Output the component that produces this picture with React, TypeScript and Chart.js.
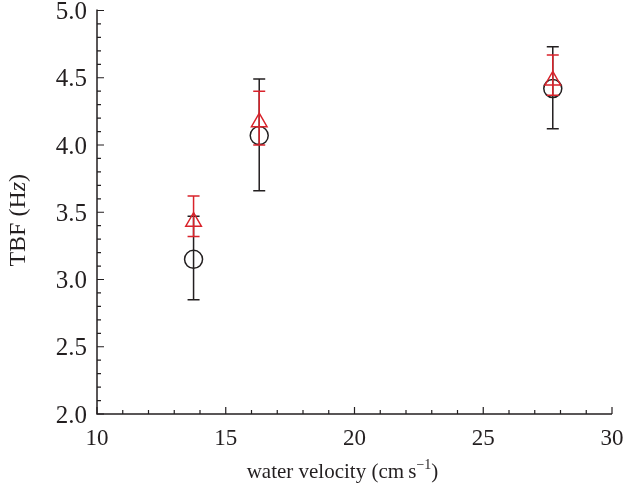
import React, { useEffect, useRef } from 'react';
import { Chart, registerables } from 'chart.js';

Chart.register(...registerables);

// Data
const velocity = [13.75, 16.3, 27.7];
const tbfCircle = [3.15, 4.07, 4.42];
const circleLow = [2.85, 3.66, 4.12];
const circleHigh = [3.47, 4.49, 4.73];
const tbfTriangle = [3.43, 4.17, 4.48];
const triangleLow = [3.32, 4.0, 4.37];
const triangleHigh = [3.62, 4.4, 4.67];

const xMajorTicks = [10, 15, 20, 25, 30];
const xMinorTicks = [11, 12, 13, 14, 16, 17, 18, 19, 21, 22, 23, 24, 26, 27, 28, 29];
const yMajorTicks = [2.0, 2.5, 3.0, 3.5, 4.0, 4.5, 5.0];
const yMinorTicks = [
  2.1, 2.2, 2.3, 2.4, 2.6, 2.7, 2.8, 2.9, 3.1, 3.2, 3.3, 3.4, 3.6, 3.7, 3.8, 3.9,
  4.1, 4.2, 4.3, 4.4, 4.6, 4.7, 4.8, 4.9,
];

const xTitleMain = 'water velocity (cm\u2009s';
const xTitleSup = '\u22121';
const xTitleEnd = ')';
const yTitleParts = ['TBF (H', 'z', ')'];

const BLACK = '#231f20';
const RED = '#d9232b';
const FONT = '"Liberation Serif", "Times New Roman", serif';

const errorBarPlugin = {
  id: 'errorBars',
  beforeDatasetDraw(chart: any, args: any) {
    const ds = chart.data.datasets[args.index];
    if (!ds.errLow) return;
    const { ctx } = chart;
    const xs = chart.scales.x;
    const ys = chart.scales.y;
    ctx.save();
    ctx.strokeStyle = ds.borderColor;
    ctx.lineWidth = 1.5;
    ds.data.forEach((p: any, i: number) => {
      const x = xs.getPixelForValue(p.x);
      const yl = ys.getPixelForValue(ds.errLow[i]);
      const yh = ys.getPixelForValue(ds.errHigh[i]);
      ctx.beginPath();
      ctx.moveTo(x, yl);
      ctx.lineTo(x, yh);
      ctx.moveTo(x - 6, yl);
      ctx.lineTo(x + 6, yl);
      ctx.moveTo(x - 6, yh);
      ctx.lineTo(x + 6, yh);
      ctx.stroke();
    });
    ctx.restore();
  },
};

const axesPlugin = {
  id: 'customAxes',
  afterDraw(chart: any) {
    const { ctx, chartArea } = chart;
    const xs = chart.scales.x;
    const ys = chart.scales.y;
    const { left, right, top, bottom } = chartArea;
    ctx.save();
    ctx.strokeStyle = BLACK;
    ctx.lineWidth = 1.5;
    ctx.beginPath();
    ctx.moveTo(left, top - 1);
    ctx.lineTo(left, bottom);
    ctx.lineTo(right, bottom);
    ctx.stroke();

    ctx.lineWidth = 1.2;
    ctx.beginPath();
    xMajorTicks.forEach((v) => {
      const x = xs.getPixelForValue(v);
      ctx.moveTo(x, bottom);
      ctx.lineTo(x, bottom - 7);
    });
    xMinorTicks.forEach((v) => {
      const x = xs.getPixelForValue(v);
      ctx.moveTo(x, bottom);
      ctx.lineTo(x, bottom - 4);
    });
    yMajorTicks.forEach((v) => {
      const y = ys.getPixelForValue(v);
      ctx.moveTo(left, y);
      ctx.lineTo(left + 7, y);
    });
    yMinorTicks.forEach((v) => {
      const y = ys.getPixelForValue(v);
      ctx.moveTo(left, y);
      ctx.lineTo(left + 4, y);
    });
    ctx.stroke();

    ctx.fillStyle = BLACK;
    ctx.font = `23px ${FONT}`;
    ctx.textAlign = 'center';
    ctx.textBaseline = 'alphabetic';
    xMajorTicks.forEach((v) => {
      ctx.fillText(String(v), xs.getPixelForValue(v), bottom + 31);
    });
    ctx.font = `25px ${FONT}`;
    ctx.textAlign = 'right';
    ctx.textBaseline = 'middle';
    yMajorTicks.forEach((v) => {
      ctx.fillText(v.toFixed(1), left - 10, ys.getPixelForValue(v) + 2);
    });

    // x title
    const mainFont = `21px ${FONT}`;
    const supFont = `14px ${FONT}`;
    ctx.font = mainFont;
    const w1 = ctx.measureText(xTitleMain).width;
    const w3 = ctx.measureText(xTitleEnd).width;
    ctx.font = supFont;
    const w2 = ctx.measureText(xTitleSup).width;
    const total = w1 + w2 + w3;
    let cx = (left + right) / 2 - 12 - total / 2;
    const by = bottom + 64;
    ctx.textAlign = 'left';
    ctx.textBaseline = 'alphabetic';
    ctx.font = mainFont;
    ctx.fillText(xTitleMain, cx, by);
    cx += w1;
    ctx.font = supFont;
    ctx.fillText(xTitleSup, cx, by - 9);
    cx += w2;
    ctx.font = mainFont;
    ctx.fillText(xTitleEnd, cx, by);

    // y title (rotated)
    const yFont = `24px ${FONT}`;
    ctx.save();
    ctx.translate(25, (top + bottom) / 2 + 8);
    ctx.rotate(-Math.PI / 2);
    const fonts = [yFont, `italic 24px ${FONT}`, yFont];
    let tw = 0;
    const widths = yTitleParts.map((t, i) => {
      ctx.font = fonts[i];
      const w = ctx.measureText(t).width;
      tw += w;
      return w;
    });
    let tx = -tw / 2;
    yTitleParts.forEach((t, i) => {
      ctx.font = fonts[i];
      ctx.fillText(t, tx, 0);
      tx += widths[i];
    });
    ctx.restore();

    ctx.restore();
  },
};

export default function App() {
  const canvasRef = useRef<HTMLCanvasElement | null>(null);

  useEffect(() => {
    if (!canvasRef.current) return;
    const chart = new Chart(canvasRef.current, {
      type: 'scatter',
      data: {
        datasets: [
          {
            label: 'triangle',
            data: velocity.map((x, i) => ({ x, y: tbfTriangle[i] })),
            errLow: triangleLow,
            errHigh: triangleHigh,
            pointStyle: 'triangle',
            radius: 9,
            borderColor: RED,
            backgroundColor: 'rgba(0,0,0,0)',
            borderWidth: 1.5,
          } as any,
          {
            label: 'circle',
            data: velocity.map((x, i) => ({ x, y: tbfCircle[i] })),
            errLow: circleLow,
            errHigh: circleHigh,
            pointStyle: 'circle',
            radius: 9,
            borderColor: BLACK,
            backgroundColor: 'rgba(0,0,0,0)',
            borderWidth: 1.5,
          } as any,
        ],
      },
      options: {
        animation: false,
        responsive: true,
        maintainAspectRatio: false,
        layout: { padding: { left: 97, right: 12, top: 3, bottom: 75 } },
        plugins: { legend: { display: false }, tooltip: { enabled: false } },
        scales: {
          x: { type: 'linear', min: 10, max: 30, display: false },
          y: { type: 'linear', min: 2, max: 5, display: false },
        },
      },
      plugins: [errorBarPlugin, axesPlugin],
    });
    return () => chart.destroy();
  }, []);

  return (
    <div style={{ position: 'absolute', left: 0, top: 0, width: 624, height: 489, background: '#fff' }}>
      <canvas ref={canvasRef} />
    </div>
  );
}
